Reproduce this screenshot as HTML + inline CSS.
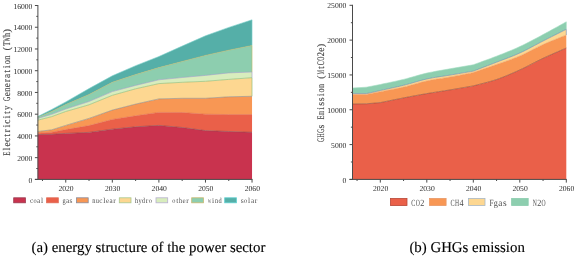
<!DOCTYPE html>
<html><head><meta charset="utf-8"><style>
html,body{margin:0;padding:0;background:#fff;width:575px;height:259px;overflow:hidden}
svg{display:block;will-change:transform;text-rendering:geometricPrecision}
.tk{font-family:"Liberation Serif",serif;fill:#262626}
.yt{font-family:"Liberation Serif",serif;fill:#4a4a4a;stroke:#4a4a4a;stroke-width:0.15px}
.lg{font-family:"Liberation Serif",serif;fill:#4c4c4c}
.cap{font-family:"Liberation Serif",serif;fill:#000;stroke:#000;stroke-width:0.12px}
</style></head><body>
<svg width="575" height="259" viewBox="0 0 575 259">
<polygon points="37.80,134.60 51.77,134.30 65.75,133.40 89.03,132.40 112.32,129.20 135.61,126.80 158.89,125.40 182.18,127.50 205.47,130.60 228.76,131.50 252.04,132.30 252.04,179.40 228.76,179.40 205.47,179.40 182.18,179.40 158.89,179.40 135.61,179.40 112.32,179.40 89.03,179.40 65.75,179.40 51.77,179.40 37.80,179.40" fill="#C9334E"/>
<polygon points="37.80,133.20 51.77,132.20 65.75,129.60 89.03,125.60 112.32,119.50 135.61,115.80 158.89,112.40 182.18,112.50 205.47,114.20 228.76,114.60 252.04,114.60 252.04,132.30 228.76,131.50 205.47,130.60 182.18,127.50 158.89,125.40 135.61,126.80 112.32,129.20 89.03,132.40 65.75,133.40 51.77,134.30 37.80,134.60" fill="#EA6049"/>
<polygon points="37.80,131.50 51.77,129.80 65.75,125.40 89.03,118.40 112.32,110.10 135.61,104.10 158.89,98.90 182.18,98.30 205.47,98.30 228.76,96.80 252.04,96.30 252.04,114.60 228.76,114.60 205.47,114.20 182.18,112.50 158.89,112.40 135.61,115.80 112.32,119.50 89.03,125.60 65.75,129.60 51.77,132.20 37.80,133.20" fill="#F89754"/>
<polygon points="37.80,120.20 51.77,116.60 65.75,111.50 89.03,104.80 112.32,95.30 135.61,88.80 158.89,83.60 182.18,82.30 205.47,81.30 228.76,79.40 252.04,77.70 252.04,96.30 228.76,96.80 205.47,98.30 182.18,98.30 158.89,98.90 135.61,104.10 112.32,110.10 89.03,118.40 65.75,125.40 51.77,129.80 37.80,131.50" fill="#FDD791"/>
<polygon points="37.80,118.40 51.77,114.30 65.75,109.00 89.03,101.50 112.32,91.60 135.61,85.40 158.89,79.80 182.18,77.50 205.47,75.40 228.76,72.90 252.04,72.00 252.04,77.70 228.76,79.40 205.47,81.30 182.18,82.30 158.89,83.60 135.61,88.80 112.32,95.30 89.03,104.80 65.75,111.50 51.77,116.60 37.80,120.20" fill="#D8EDBD"/>
<polygon points="37.80,117.40 51.77,111.40 65.75,104.60 89.03,94.50 112.32,82.30 135.61,74.60 158.89,67.60 182.18,61.50 205.47,55.40 228.76,50.20 252.04,45.50 252.04,72.00 228.76,72.90 205.47,75.40 182.18,77.50 158.89,79.80 135.61,85.40 112.32,91.60 89.03,101.50 65.75,109.00 51.77,114.30 37.80,118.40" fill="#8DCEAF"/>
<polygon points="37.80,116.60 51.77,109.40 65.75,101.90 89.03,88.60 112.32,75.80 135.61,65.70 158.89,56.50 182.18,46.10 205.47,35.80 228.76,27.40 252.04,19.80 252.04,45.50 228.76,50.20 205.47,55.40 182.18,61.50 158.89,67.60 135.61,74.60 112.32,82.30 89.03,94.50 65.75,104.60 51.77,111.40 37.80,117.40" fill="#55AFA8"/>
<polyline points="37.80,134.60 51.77,134.30 65.75,133.40 89.03,132.40 112.32,129.20 135.61,126.80 158.89,125.40 182.18,127.50 205.47,130.60 228.76,131.50 252.04,132.30" fill="none" stroke="#8a4850" stroke-width="0.6"/>
<polyline points="37.80,133.20 51.77,132.20 65.75,129.60 89.03,125.60 112.32,119.50 135.61,115.80 158.89,112.40 182.18,112.50 205.47,114.20 228.76,114.60 252.04,114.60" fill="none" stroke="#e0684e" stroke-width="0.6"/>
<polyline points="37.80,131.50 51.77,129.80 65.75,125.40 89.03,118.40 112.32,110.10 135.61,104.10 158.89,98.90 182.18,98.30 205.47,98.30 228.76,96.80 252.04,96.30" fill="none" stroke="#8a8a8a" stroke-width="0.6"/>
<polyline points="37.80,120.20 51.77,116.60 65.75,111.50 89.03,104.80 112.32,95.30 135.61,88.80 158.89,83.60 182.18,82.30 205.47,81.30 228.76,79.40 252.04,77.70" fill="none" stroke="#86b872" stroke-width="0.6"/>
<line x1="252.04" y1="77.70" x2="252.04" y2="96.30" stroke="#86b872" stroke-width="0.6"/>
<polyline points="37.80,118.40 51.77,114.30 65.75,109.00 89.03,101.50 112.32,91.60 135.61,85.40 158.89,79.80 182.18,77.50 205.47,75.40 228.76,72.90 252.04,72.00" fill="none" stroke="#a2a0c4" stroke-width="0.6"/>
<line x1="252.04" y1="72.00" x2="252.04" y2="77.70" stroke="#a2a0c4" stroke-width="0.6"/>
<polyline points="37.80,117.40 51.77,111.40 65.75,104.60 89.03,94.50 112.32,82.30 135.61,74.60 158.89,67.60 182.18,61.50 205.47,55.40 228.76,50.20 252.04,45.50" fill="none" stroke="#c2bb6a" stroke-width="0.6"/>
<line x1="252.04" y1="45.50" x2="252.04" y2="72.00" stroke="#c2bb6a" stroke-width="0.6"/>
<polyline points="37.80,116.60 51.77,109.40 65.75,101.90 89.03,88.60 112.32,75.80 135.61,65.70 158.89,56.50 182.18,46.10 205.47,35.80 228.76,27.40 252.04,19.80" fill="none" stroke="#80d2cc" stroke-width="0.6"/>
<line x1="252.04" y1="19.80" x2="252.04" y2="45.50" stroke="#80d2cc" stroke-width="0.6"/>
<polygon points="352.40,104.00 366.35,103.80 380.30,102.60 383.21,102.01 386.11,101.42 389.02,100.82 391.92,100.22 394.83,99.63 397.74,99.05 400.64,98.47 403.55,97.90 406.46,97.34 409.36,96.78 412.27,96.23 415.17,95.69 418.08,95.15 420.99,94.62 423.89,94.11 426.80,93.60 429.71,93.11 432.61,92.64 435.52,92.18 438.42,91.73 441.33,91.28 444.24,90.83 447.14,90.37 450.05,89.90 452.96,89.41 455.86,88.92 458.77,88.42 461.67,87.92 464.58,87.41 467.49,86.91 470.39,86.40 473.30,85.90 476.21,85.12 479.11,84.38 482.02,83.64 484.92,82.90 487.83,82.13 490.74,81.33 493.64,80.45 496.55,79.50 499.46,78.47 502.36,77.37 505.27,76.22 508.17,75.03 511.08,73.79 513.99,72.52 516.89,71.22 519.80,69.90 522.71,68.54 525.61,67.11 528.52,65.64 531.42,64.14 534.33,62.64 537.24,61.16 540.14,59.70 543.05,58.30 545.96,56.95 548.86,55.63 551.77,54.34 554.67,53.07 557.58,51.81 560.49,50.54 563.39,49.28 566.30,48.00 566.30,179.40 563.39,179.40 560.49,179.40 557.58,179.40 554.67,179.40 551.77,179.40 548.86,179.40 545.96,179.40 543.05,179.40 540.14,179.40 537.24,179.40 534.33,179.40 531.42,179.40 528.52,179.40 525.61,179.40 522.71,179.40 519.80,179.40 516.89,179.40 513.99,179.40 511.08,179.40 508.17,179.40 505.27,179.40 502.36,179.40 499.46,179.40 496.55,179.40 493.64,179.40 490.74,179.40 487.83,179.40 484.92,179.40 482.02,179.40 479.11,179.40 476.21,179.40 473.30,179.40 470.39,179.40 467.49,179.40 464.58,179.40 461.67,179.40 458.77,179.40 455.86,179.40 452.96,179.40 450.05,179.40 447.14,179.40 444.24,179.40 441.33,179.40 438.42,179.40 435.52,179.40 432.61,179.40 429.71,179.40 426.80,179.40 423.89,179.40 420.99,179.40 418.08,179.40 415.17,179.40 412.27,179.40 409.36,179.40 406.46,179.40 403.55,179.40 400.64,179.40 397.74,179.40 394.83,179.40 391.92,179.40 389.02,179.40 386.11,179.40 383.21,179.40 380.30,179.40 366.35,179.40 352.40,179.40" fill="#EA6049"/>
<polygon points="352.40,94.50 366.35,94.40 380.30,91.70 383.21,91.14 386.11,90.59 389.02,90.05 391.92,89.50 394.83,88.94 397.74,88.36 400.64,87.75 403.55,87.10 406.46,86.39 409.36,85.61 412.27,84.79 415.17,83.96 418.08,83.13 420.99,82.33 423.89,81.58 426.80,80.90 429.71,80.31 432.61,79.78 435.52,79.29 438.42,78.84 441.33,78.40 444.24,77.96 447.14,77.50 450.05,77.00 452.96,76.47 455.86,75.94 458.77,75.39 461.67,74.83 464.58,74.27 467.49,73.71 470.39,73.15 473.30,72.60 476.21,71.59 479.11,70.58 482.02,69.58 484.92,68.57 487.83,67.57 490.74,66.55 493.64,65.53 496.55,64.50 499.46,63.48 502.36,62.47 505.27,61.47 508.17,60.46 511.08,59.42 513.99,58.34 516.89,57.20 519.80,56.00 522.71,54.70 525.61,53.31 528.52,51.86 531.42,50.37 534.33,48.87 537.24,47.39 540.14,45.96 543.05,44.60 545.96,43.31 548.86,42.07 551.77,40.87 554.67,39.69 557.58,38.52 560.49,37.36 563.39,36.19 566.30,35.00 566.30,48.00 563.39,49.28 560.49,50.54 557.58,51.81 554.67,53.07 551.77,54.34 548.86,55.63 545.96,56.95 543.05,58.30 540.14,59.70 537.24,61.16 534.33,62.64 531.42,64.14 528.52,65.64 525.61,67.11 522.71,68.54 519.80,69.90 516.89,71.22 513.99,72.52 511.08,73.79 508.17,75.03 505.27,76.22 502.36,77.37 499.46,78.47 496.55,79.50 493.64,80.45 490.74,81.33 487.83,82.13 484.92,82.90 482.02,83.64 479.11,84.38 476.21,85.12 473.30,85.90 470.39,86.40 467.49,86.91 464.58,87.41 461.67,87.92 458.77,88.42 455.86,88.92 452.96,89.41 450.05,89.90 447.14,90.37 444.24,90.83 441.33,91.28 438.42,91.73 435.52,92.18 432.61,92.64 429.71,93.11 426.80,93.60 423.89,94.11 420.99,94.62 418.08,95.15 415.17,95.69 412.27,96.23 409.36,96.78 406.46,97.34 403.55,97.90 400.64,98.47 397.74,99.05 394.83,99.63 391.92,100.22 389.02,100.82 386.11,101.42 383.21,102.01 380.30,102.60 366.35,103.80 352.40,104.00" fill="#F89754"/>
<polygon points="352.40,93.60 366.35,93.60 380.30,90.50 383.21,89.86 386.11,89.23 389.02,88.60 391.92,87.97 394.83,87.33 397.74,86.68 400.64,86.00 403.55,85.30 406.46,84.55 409.36,83.75 412.27,82.91 415.17,82.07 418.08,81.24 420.99,80.43 423.89,79.68 426.80,79.00 429.71,78.40 432.61,77.86 435.52,77.37 438.42,76.91 441.33,76.46 444.24,76.03 447.14,75.58 450.05,75.10 452.96,74.60 455.86,74.11 458.77,73.61 461.67,73.11 464.58,72.60 467.49,72.10 470.39,71.60 473.30,71.10 476.21,69.99 479.11,68.88 482.02,67.78 484.92,66.67 487.83,65.56 490.74,64.45 493.64,63.33 496.55,62.20 499.46,61.08 502.36,59.99 505.27,58.90 508.17,57.79 511.08,56.67 513.99,55.50 516.89,54.29 519.80,53.00 522.71,51.63 525.61,50.19 528.52,48.69 531.42,47.16 534.33,45.60 537.24,44.04 540.14,42.50 543.05,41.00 545.96,39.52 548.86,38.05 551.77,36.59 554.67,35.13 557.58,33.67 560.49,32.22 563.39,30.76 566.30,29.30 566.30,35.00 563.39,36.19 560.49,37.36 557.58,38.52 554.67,39.69 551.77,40.87 548.86,42.07 545.96,43.31 543.05,44.60 540.14,45.96 537.24,47.39 534.33,48.87 531.42,50.37 528.52,51.86 525.61,53.31 522.71,54.70 519.80,56.00 516.89,57.20 513.99,58.34 511.08,59.42 508.17,60.46 505.27,61.47 502.36,62.47 499.46,63.48 496.55,64.50 493.64,65.53 490.74,66.55 487.83,67.57 484.92,68.57 482.02,69.58 479.11,70.58 476.21,71.59 473.30,72.60 470.39,73.15 467.49,73.71 464.58,74.27 461.67,74.83 458.77,75.39 455.86,75.94 452.96,76.47 450.05,77.00 447.14,77.50 444.24,77.96 441.33,78.40 438.42,78.84 435.52,79.29 432.61,79.78 429.71,80.31 426.80,80.90 423.89,81.58 420.99,82.33 418.08,83.13 415.17,83.96 412.27,84.79 409.36,85.61 406.46,86.39 403.55,87.10 400.64,87.75 397.74,88.36 394.83,88.94 391.92,89.50 389.02,90.05 386.11,90.59 383.21,91.14 380.30,91.70 366.35,94.40 352.40,94.50" fill="#FDD791"/>
<polygon points="352.40,88.10 366.35,87.20 380.30,84.50 383.21,83.87 386.11,83.25 389.02,82.64 391.92,82.03 394.83,81.40 397.74,80.76 400.64,80.09 403.55,79.40 406.46,78.66 409.36,77.86 412.27,77.04 415.17,76.20 418.08,75.37 420.99,74.56 423.89,73.80 426.80,73.10 429.71,72.46 432.61,71.88 435.52,71.33 438.42,70.81 441.33,70.30 444.24,69.81 447.14,69.31 450.05,68.80 452.96,68.29 455.86,67.78 458.77,67.28 461.67,66.78 464.58,66.29 467.49,65.79 470.39,65.30 473.30,64.80 476.21,63.73 479.11,62.67 482.02,61.62 484.92,60.56 487.83,59.50 490.74,58.42 493.64,57.32 496.55,56.20 499.46,55.06 502.36,53.93 505.27,52.78 508.17,51.61 511.08,50.42 513.99,49.19 516.89,47.92 519.80,46.60 522.71,45.22 525.61,43.79 528.52,42.31 531.42,40.80 534.33,39.26 537.24,37.71 540.14,36.15 543.05,34.60 545.96,33.04 548.86,31.46 551.77,29.86 554.67,28.25 557.58,26.64 560.49,25.02 563.39,23.41 566.30,21.80 566.30,29.30 563.39,30.76 560.49,32.22 557.58,33.67 554.67,35.13 551.77,36.59 548.86,38.05 545.96,39.52 543.05,41.00 540.14,42.50 537.24,44.04 534.33,45.60 531.42,47.16 528.52,48.69 525.61,50.19 522.71,51.63 519.80,53.00 516.89,54.29 513.99,55.50 511.08,56.67 508.17,57.79 505.27,58.90 502.36,59.99 499.46,61.08 496.55,62.20 493.64,63.33 490.74,64.45 487.83,65.56 484.92,66.67 482.02,67.78 479.11,68.88 476.21,69.99 473.30,71.10 470.39,71.60 467.49,72.10 464.58,72.60 461.67,73.11 458.77,73.61 455.86,74.11 452.96,74.60 450.05,75.10 447.14,75.58 444.24,76.03 441.33,76.46 438.42,76.91 435.52,77.37 432.61,77.86 429.71,78.40 426.80,79.00 423.89,79.68 420.99,80.43 418.08,81.24 415.17,82.07 412.27,82.91 409.36,83.75 406.46,84.55 403.55,85.30 400.64,86.00 397.74,86.68 394.83,87.33 391.92,87.97 389.02,88.60 386.11,89.23 383.21,89.86 380.30,90.50 366.35,93.60 352.40,93.60" fill="#8DCEAF"/>
<polyline points="352.40,104.00 366.35,103.80 380.30,102.60 383.21,102.01 386.11,101.42 389.02,100.82 391.92,100.22 394.83,99.63 397.74,99.05 400.64,98.47 403.55,97.90 406.46,97.34 409.36,96.78 412.27,96.23 415.17,95.69 418.08,95.15 420.99,94.62 423.89,94.11 426.80,93.60 429.71,93.11 432.61,92.64 435.52,92.18 438.42,91.73 441.33,91.28 444.24,90.83 447.14,90.37 450.05,89.90 452.96,89.41 455.86,88.92 458.77,88.42 461.67,87.92 464.58,87.41 467.49,86.91 470.39,86.40 473.30,85.90 476.21,85.12 479.11,84.38 482.02,83.64 484.92,82.90 487.83,82.13 490.74,81.33 493.64,80.45 496.55,79.50 499.46,78.47 502.36,77.37 505.27,76.22 508.17,75.03 511.08,73.79 513.99,72.52 516.89,71.22 519.80,69.90 522.71,68.54 525.61,67.11 528.52,65.64 531.42,64.14 534.33,62.64 537.24,61.16 540.14,59.70 543.05,58.30 545.96,56.95 548.86,55.63 551.77,54.34 554.67,53.07 557.58,51.81 560.49,50.54 563.39,49.28 566.30,48.00" fill="none" stroke="#8a4a3a" stroke-width="0.6"/>
<polyline points="352.40,94.50 366.35,94.40 380.30,91.70 383.21,91.14 386.11,90.59 389.02,90.05 391.92,89.50 394.83,88.94 397.74,88.36 400.64,87.75 403.55,87.10 406.46,86.39 409.36,85.61 412.27,84.79 415.17,83.96 418.08,83.13 420.99,82.33 423.89,81.58 426.80,80.90 429.71,80.31 432.61,79.78 435.52,79.29 438.42,78.84 441.33,78.40 444.24,77.96 447.14,77.50 450.05,77.00 452.96,76.47 455.86,75.94 458.77,75.39 461.67,74.83 464.58,74.27 467.49,73.71 470.39,73.15 473.30,72.60 476.21,71.59 479.11,70.58 482.02,69.58 484.92,68.57 487.83,67.57 490.74,66.55 493.64,65.53 496.55,64.50 499.46,63.48 502.36,62.47 505.27,61.47 508.17,60.46 511.08,59.42 513.99,58.34 516.89,57.20 519.80,56.00 522.71,54.70 525.61,53.31 528.52,51.86 531.42,50.37 534.33,48.87 537.24,47.39 540.14,45.96 543.05,44.60 545.96,43.31 548.86,42.07 551.77,40.87 554.67,39.69 557.58,38.52 560.49,37.36 563.39,36.19 566.30,35.00" fill="none" stroke="#ec9a62" stroke-width="0.6"/>
<polyline points="352.40,93.60 366.35,93.60 380.30,90.50 383.21,89.86 386.11,89.23 389.02,88.60 391.92,87.97 394.83,87.33 397.74,86.68 400.64,86.00 403.55,85.30 406.46,84.55 409.36,83.75 412.27,82.91 415.17,82.07 418.08,81.24 420.99,80.43 423.89,79.68 426.80,79.00 429.71,78.40 432.61,77.86 435.52,77.37 438.42,76.91 441.33,76.46 444.24,76.03 447.14,75.58 450.05,75.10 452.96,74.60 455.86,74.11 458.77,73.61 461.67,73.11 464.58,72.60 467.49,72.10 470.39,71.60 473.30,71.10 476.21,69.99 479.11,68.88 482.02,67.78 484.92,66.67 487.83,65.56 490.74,64.45 493.64,63.33 496.55,62.20 499.46,61.08 502.36,59.99 505.27,58.90 508.17,57.79 511.08,56.67 513.99,55.50 516.89,54.29 519.80,53.00 522.71,51.63 525.61,50.19 528.52,48.69 531.42,47.16 534.33,45.60 537.24,44.04 540.14,42.50 543.05,41.00 545.96,39.52 548.86,38.05 551.77,36.59 554.67,35.13 557.58,33.67 560.49,32.22 563.39,30.76 566.30,29.30" fill="none" stroke="#6f88ac" stroke-width="0.6"/>
<line x1="566.30" y1="29.30" x2="566.30" y2="35.00" stroke="#6f88ac" stroke-width="0.6"/>
<polyline points="352.40,88.10 366.35,87.20 380.30,84.50 383.21,83.87 386.11,83.25 389.02,82.64 391.92,82.03 394.83,81.40 397.74,80.76 400.64,80.09 403.55,79.40 406.46,78.66 409.36,77.86 412.27,77.04 415.17,76.20 418.08,75.37 420.99,74.56 423.89,73.80 426.80,73.10 429.71,72.46 432.61,71.88 435.52,71.33 438.42,70.81 441.33,70.30 444.24,69.81 447.14,69.31 450.05,68.80 452.96,68.29 455.86,67.78 458.77,67.28 461.67,66.78 464.58,66.29 467.49,65.79 470.39,65.30 473.30,64.80 476.21,63.73 479.11,62.67 482.02,61.62 484.92,60.56 487.83,59.50 490.74,58.42 493.64,57.32 496.55,56.20 499.46,55.06 502.36,53.93 505.27,52.78 508.17,51.61 511.08,50.42 513.99,49.19 516.89,47.92 519.80,46.60 522.71,45.22 525.61,43.79 528.52,42.31 531.42,40.80 534.33,39.26 537.24,37.71 540.14,36.15 543.05,34.60 545.96,33.04 548.86,31.46 551.77,29.86 554.67,28.25 557.58,26.64 560.49,25.02 563.39,23.41 566.30,21.80" fill="none" stroke="#a0dcc0" stroke-width="0.6"/>
<line x1="566.30" y1="21.80" x2="566.30" y2="29.30" stroke="#a0dcc0" stroke-width="0.6"/>
<line x1="37.9" y1="5.0" x2="37.9" y2="179.9" stroke="#4a4a4a" stroke-width="1"/>
<line x1="34.9" y1="179.40" x2="37.9" y2="179.40" stroke="#4a4a4a" stroke-width="1"/>
<text x="32.4" y="182.50" text-anchor="end" class="tk" font-size="7.6">0</text>
<line x1="36.3" y1="168.53" x2="37.9" y2="168.53" stroke="#4a4a4a" stroke-width="1"/>
<line x1="34.9" y1="157.66" x2="37.9" y2="157.66" stroke="#4a4a4a" stroke-width="1"/>
<text x="32.4" y="160.76" text-anchor="end" class="tk" font-size="7.6">2000</text>
<line x1="36.3" y1="146.79" x2="37.9" y2="146.79" stroke="#4a4a4a" stroke-width="1"/>
<line x1="34.9" y1="135.93" x2="37.9" y2="135.93" stroke="#4a4a4a" stroke-width="1"/>
<text x="32.4" y="139.03" text-anchor="end" class="tk" font-size="7.6">4000</text>
<line x1="36.3" y1="125.06" x2="37.9" y2="125.06" stroke="#4a4a4a" stroke-width="1"/>
<line x1="34.9" y1="114.19" x2="37.9" y2="114.19" stroke="#4a4a4a" stroke-width="1"/>
<text x="32.4" y="117.29" text-anchor="end" class="tk" font-size="7.6">6000</text>
<line x1="36.3" y1="103.32" x2="37.9" y2="103.32" stroke="#4a4a4a" stroke-width="1"/>
<line x1="34.9" y1="92.45" x2="37.9" y2="92.45" stroke="#4a4a4a" stroke-width="1"/>
<text x="32.4" y="95.55" text-anchor="end" class="tk" font-size="7.6">8000</text>
<line x1="36.3" y1="81.58" x2="37.9" y2="81.58" stroke="#4a4a4a" stroke-width="1"/>
<line x1="34.9" y1="70.71" x2="37.9" y2="70.71" stroke="#4a4a4a" stroke-width="1"/>
<text x="32.4" y="73.81" text-anchor="end" class="tk" font-size="7.6">10000</text>
<line x1="36.3" y1="59.84" x2="37.9" y2="59.84" stroke="#4a4a4a" stroke-width="1"/>
<line x1="34.9" y1="48.97" x2="37.9" y2="48.97" stroke="#4a4a4a" stroke-width="1"/>
<text x="32.4" y="52.07" text-anchor="end" class="tk" font-size="7.6">12000</text>
<line x1="36.3" y1="38.11" x2="37.9" y2="38.11" stroke="#4a4a4a" stroke-width="1"/>
<line x1="34.9" y1="27.24" x2="37.9" y2="27.24" stroke="#4a4a4a" stroke-width="1"/>
<text x="32.4" y="30.34" text-anchor="end" class="tk" font-size="7.6">14000</text>
<line x1="36.3" y1="16.37" x2="37.9" y2="16.37" stroke="#4a4a4a" stroke-width="1"/>
<line x1="34.9" y1="5.50" x2="37.9" y2="5.50" stroke="#4a4a4a" stroke-width="1"/>
<text x="32.4" y="8.60" text-anchor="end" class="tk" font-size="7.6">16000</text>
<line x1="352.5" y1="4.8" x2="352.5" y2="179.9" stroke="#4a4a4a" stroke-width="1"/>
<line x1="349.5" y1="179.40" x2="352.5" y2="179.40" stroke="#4a4a4a" stroke-width="1"/>
<text x="346.3" y="182.50" text-anchor="end" class="tk" font-size="7.6">0</text>
<line x1="350.9" y1="161.99" x2="352.5" y2="161.99" stroke="#4a4a4a" stroke-width="1"/>
<line x1="349.5" y1="144.58" x2="352.5" y2="144.58" stroke="#4a4a4a" stroke-width="1"/>
<text x="346.3" y="147.68" text-anchor="end" class="tk" font-size="7.6">5000</text>
<line x1="350.9" y1="127.17" x2="352.5" y2="127.17" stroke="#4a4a4a" stroke-width="1"/>
<line x1="349.5" y1="109.76" x2="352.5" y2="109.76" stroke="#4a4a4a" stroke-width="1"/>
<text x="346.3" y="112.86" text-anchor="end" class="tk" font-size="7.6">10000</text>
<line x1="350.9" y1="92.35" x2="352.5" y2="92.35" stroke="#4a4a4a" stroke-width="1"/>
<line x1="349.5" y1="74.94" x2="352.5" y2="74.94" stroke="#4a4a4a" stroke-width="1"/>
<text x="346.3" y="78.04" text-anchor="end" class="tk" font-size="7.6">15000</text>
<line x1="350.9" y1="57.53" x2="352.5" y2="57.53" stroke="#4a4a4a" stroke-width="1"/>
<line x1="349.5" y1="40.12" x2="352.5" y2="40.12" stroke="#4a4a4a" stroke-width="1"/>
<text x="346.3" y="43.22" text-anchor="end" class="tk" font-size="7.6">20000</text>
<line x1="350.9" y1="22.71" x2="352.5" y2="22.71" stroke="#4a4a4a" stroke-width="1"/>
<line x1="349.5" y1="5.30" x2="352.5" y2="5.30" stroke="#4a4a4a" stroke-width="1"/>
<text x="346.3" y="8.40" text-anchor="end" class="tk" font-size="7.6">25000</text>
<line x1="34.9" y1="179.4" x2="252.54499999999996" y2="179.4" stroke="#4a4a4a" stroke-width="1"/>
<line x1="42.46" y1="179.4" x2="42.46" y2="181.0" stroke="#4a4a4a" stroke-width="1"/>
<line x1="65.75" y1="179.4" x2="65.75" y2="182.6" stroke="#4a4a4a" stroke-width="1"/>
<text x="66.05" y="191.4" text-anchor="middle" class="tk" font-size="7.6">2020</text>
<line x1="89.03" y1="179.4" x2="89.03" y2="181.0" stroke="#4a4a4a" stroke-width="1"/>
<line x1="112.32" y1="179.4" x2="112.32" y2="182.6" stroke="#4a4a4a" stroke-width="1"/>
<text x="112.62" y="191.4" text-anchor="middle" class="tk" font-size="7.6">2030</text>
<line x1="135.61" y1="179.4" x2="135.61" y2="181.0" stroke="#4a4a4a" stroke-width="1"/>
<line x1="158.89" y1="179.4" x2="158.89" y2="182.6" stroke="#4a4a4a" stroke-width="1"/>
<text x="159.19" y="191.4" text-anchor="middle" class="tk" font-size="7.6">2040</text>
<line x1="182.18" y1="179.4" x2="182.18" y2="181.0" stroke="#4a4a4a" stroke-width="1"/>
<line x1="205.47" y1="179.4" x2="205.47" y2="182.6" stroke="#4a4a4a" stroke-width="1"/>
<text x="205.77" y="191.4" text-anchor="middle" class="tk" font-size="7.6">2050</text>
<line x1="228.76" y1="179.4" x2="228.76" y2="181.0" stroke="#4a4a4a" stroke-width="1"/>
<line x1="252.04" y1="179.4" x2="252.04" y2="182.6" stroke="#4a4a4a" stroke-width="1"/>
<text x="252.34" y="191.4" text-anchor="middle" class="tk" font-size="7.6">2060</text>
<line x1="349.5" y1="179.4" x2="566.8" y2="179.4" stroke="#4a4a4a" stroke-width="1"/>
<line x1="357.05" y1="179.4" x2="357.05" y2="181.0" stroke="#4a4a4a" stroke-width="1"/>
<line x1="380.30" y1="179.4" x2="380.30" y2="182.6" stroke="#4a4a4a" stroke-width="1"/>
<text x="380.60" y="191.4" text-anchor="middle" class="tk" font-size="7.6">2020</text>
<line x1="403.55" y1="179.4" x2="403.55" y2="181.0" stroke="#4a4a4a" stroke-width="1"/>
<line x1="426.80" y1="179.4" x2="426.80" y2="182.6" stroke="#4a4a4a" stroke-width="1"/>
<text x="427.10" y="191.4" text-anchor="middle" class="tk" font-size="7.6">2030</text>
<line x1="450.05" y1="179.4" x2="450.05" y2="181.0" stroke="#4a4a4a" stroke-width="1"/>
<line x1="473.30" y1="179.4" x2="473.30" y2="182.6" stroke="#4a4a4a" stroke-width="1"/>
<text x="473.60" y="191.4" text-anchor="middle" class="tk" font-size="7.6">2040</text>
<line x1="496.55" y1="179.4" x2="496.55" y2="181.0" stroke="#4a4a4a" stroke-width="1"/>
<line x1="519.80" y1="179.4" x2="519.80" y2="182.6" stroke="#4a4a4a" stroke-width="1"/>
<text x="520.10" y="191.4" text-anchor="middle" class="tk" font-size="7.6">2050</text>
<line x1="543.05" y1="179.4" x2="543.05" y2="181.0" stroke="#4a4a4a" stroke-width="1"/>
<line x1="566.30" y1="179.4" x2="566.30" y2="182.6" stroke="#4a4a4a" stroke-width="1"/>
<text x="566.60" y="191.4" text-anchor="middle" class="tk" font-size="7.6">2060</text>
<g transform="translate(9.9,155.9) rotate(-90)"><g class="yt" font-size="10.2" ><text x="0.18" y="0" textLength="4.20" lengthAdjust="spacingAndGlyphs">E</text><text x="9.32" y="0" textLength="4.20" lengthAdjust="spacingAndGlyphs">e</text><text x="13.89" y="0" textLength="4.20" lengthAdjust="spacingAndGlyphs">c</text><text x="32.17" y="0" textLength="4.20" lengthAdjust="spacingAndGlyphs">c</text><text x="45.88" y="0" textLength="4.20" lengthAdjust="spacingAndGlyphs">y</text><text x="55.02" y="0" textLength="4.20" lengthAdjust="spacingAndGlyphs">G</text><text x="59.59" y="0" textLength="4.20" lengthAdjust="spacingAndGlyphs">e</text><text x="64.16" y="0" textLength="4.20" lengthAdjust="spacingAndGlyphs">n</text><text x="68.73" y="0" textLength="4.20" lengthAdjust="spacingAndGlyphs">e</text><text x="77.87" y="0" textLength="4.20" lengthAdjust="spacingAndGlyphs">a</text><text x="91.58" y="0" textLength="4.20" lengthAdjust="spacingAndGlyphs">o</text><text x="96.15" y="0" textLength="4.20" lengthAdjust="spacingAndGlyphs">n</text><text x="109.86" y="0" textLength="4.20" lengthAdjust="spacingAndGlyphs">T</text><text x="114.43" y="0" textLength="4.20" lengthAdjust="spacingAndGlyphs">W</text><text x="119.00" y="0" textLength="4.20" lengthAdjust="spacingAndGlyphs">h</text><text x="5.44 19.15 23.44 28.29 37.43 42.00 73.71 83.13 87.70 105.47 123.52" y="0">ltriitrti()</text></g></g>
<g transform="translate(324.4,142.3) rotate(-90)"><g class="yt" font-size="10.0" ><text x="0.18" y="0" textLength="4.16" lengthAdjust="spacingAndGlyphs">G</text><text x="4.70" y="0" textLength="4.16" lengthAdjust="spacingAndGlyphs">H</text><text x="9.22" y="0" textLength="4.16" lengthAdjust="spacingAndGlyphs">G</text><text x="22.78" y="0" textLength="4.16" lengthAdjust="spacingAndGlyphs">E</text><text x="27.30" y="0" textLength="4.16" lengthAdjust="spacingAndGlyphs">m</text><text x="49.90" y="0" textLength="4.16" lengthAdjust="spacingAndGlyphs">o</text><text x="54.42" y="0" textLength="4.16" lengthAdjust="spacingAndGlyphs">n</text><text x="67.98" y="0" textLength="4.16" lengthAdjust="spacingAndGlyphs">M</text><text x="77.02" y="0" textLength="4.16" lengthAdjust="spacingAndGlyphs">C</text><text x="81.54" y="0" textLength="4.16" lengthAdjust="spacingAndGlyphs">O</text><text x="86.06" y="0" textLength="4.16" lengthAdjust="spacingAndGlyphs">2</text><text x="90.58" y="0" textLength="4.16" lengthAdjust="spacingAndGlyphs">e</text><text x="13.87 32.51 36.47 40.99 46.07 63.65 73.19 95.06" y="0">sissi(t)</text></g></g>
<rect x="13.7" y="197.8" width="11.7" height="5" fill="#C9334E" stroke="#9a3a50" stroke-width="0.8"/>
<g class="lg" font-size="7.5" ><text x="30.04" y="202.7" textLength="3.17" lengthAdjust="spacingAndGlyphs">c</text><text x="33.49" y="202.7" textLength="3.17" lengthAdjust="spacingAndGlyphs">o</text><text x="36.94" y="202.7" textLength="3.17" lengthAdjust="spacingAndGlyphs">a</text><text x="40.93" y="202.7">l</text></g>
<rect x="46.6" y="197.8" width="11.7" height="5" fill="#EA6049" stroke="#e06a55" stroke-width="0.8"/>
<g class="lg" font-size="7.5" ><text x="62.54" y="202.7" textLength="3.17" lengthAdjust="spacingAndGlyphs">g</text><text x="65.99" y="202.7" textLength="3.17" lengthAdjust="spacingAndGlyphs">a</text><text x="69.57" y="202.7">s</text></g>
<rect x="76.5" y="197.8" width="11.7" height="5" fill="#F89754" stroke="#8a8a9a" stroke-width="0.8"/>
<g class="lg" font-size="7.5" ><text x="92.24" y="202.7" textLength="3.17" lengthAdjust="spacingAndGlyphs">n</text><text x="95.69" y="202.7" textLength="3.17" lengthAdjust="spacingAndGlyphs">u</text><text x="99.14" y="202.7" textLength="3.17" lengthAdjust="spacingAndGlyphs">c</text><text x="106.04" y="202.7" textLength="3.17" lengthAdjust="spacingAndGlyphs">e</text><text x="109.49" y="202.7" textLength="3.17" lengthAdjust="spacingAndGlyphs">a</text><text x="103.13 113.28" y="202.7">lr</text></g>
<rect x="119.3" y="197.8" width="11.7" height="5" fill="#FDD791" stroke="#a8c890" stroke-width="0.8"/>
<g class="lg" font-size="7.5" ><text x="134.94" y="202.7" textLength="3.17" lengthAdjust="spacingAndGlyphs">h</text><text x="138.39" y="202.7" textLength="3.17" lengthAdjust="spacingAndGlyphs">y</text><text x="141.84" y="202.7" textLength="3.17" lengthAdjust="spacingAndGlyphs">d</text><text x="148.74" y="202.7" textLength="3.17" lengthAdjust="spacingAndGlyphs">o</text><text x="145.63" y="202.7">r</text></g>
<rect x="156.0" y="197.8" width="11.7" height="5" fill="#D8EDBD" stroke="#b8b0d0" stroke-width="0.8"/>
<g class="lg" font-size="7.5" ><text x="172.14" y="202.7" textLength="3.17" lengthAdjust="spacingAndGlyphs">o</text><text x="179.04" y="202.7" textLength="3.17" lengthAdjust="spacingAndGlyphs">h</text><text x="182.49" y="202.7" textLength="3.17" lengthAdjust="spacingAndGlyphs">e</text><text x="176.13 186.28" y="202.7">tr</text></g>
<rect x="191.7" y="197.8" width="11.7" height="5" fill="#8DCEAF" stroke="#c8b870" stroke-width="0.8"/>
<g class="lg" font-size="7.5" ><text x="208.04" y="202.7" textLength="3.17" lengthAdjust="spacingAndGlyphs">w</text><text x="214.94" y="202.7" textLength="3.17" lengthAdjust="spacingAndGlyphs">n</text><text x="218.39" y="202.7" textLength="3.17" lengthAdjust="spacingAndGlyphs">d</text><text x="212.03" y="202.7">i</text></g>
<rect x="224.7" y="197.8" width="11.7" height="5" fill="#55AFA8" stroke="#60d0d0" stroke-width="0.8"/>
<g class="lg" font-size="7.5" ><text x="244.09" y="202.7" textLength="3.17" lengthAdjust="spacingAndGlyphs">o</text><text x="250.99" y="202.7" textLength="3.17" lengthAdjust="spacingAndGlyphs">a</text><text x="240.77 248.08 254.78" y="202.7">slr</text></g>
<rect x="390.4" y="198.4" width="16.6" height="7.199999999999999" fill="#EA6049" stroke="#b84a3a" stroke-width="0.8"/>
<g class="lg" font-size="9.5" ><text x="411.28" y="205.5" textLength="4.09" lengthAdjust="spacingAndGlyphs">C</text><text x="415.73" y="205.5" textLength="4.09" lengthAdjust="spacingAndGlyphs">O</text><text x="420.18" y="205.5" textLength="4.09" lengthAdjust="spacingAndGlyphs">2</text></g>
<rect x="429.5" y="198.4" width="16.6" height="7.199999999999999" fill="#F89754" stroke="#e89a6a" stroke-width="0.8"/>
<g class="lg" font-size="9.5" ><text x="450.58" y="205.5" textLength="4.09" lengthAdjust="spacingAndGlyphs">C</text><text x="455.03" y="205.5" textLength="4.09" lengthAdjust="spacingAndGlyphs">H</text><text x="459.48" y="205.5" textLength="4.09" lengthAdjust="spacingAndGlyphs">4</text></g>
<rect x="468.4" y="198.4" width="16.6" height="7.199999999999999" fill="#FDD791" stroke="#a8b8c8" stroke-width="0.8"/>
<g class="lg" font-size="9.5" ><text x="489.38" y="205.5" textLength="4.09" lengthAdjust="spacingAndGlyphs">F</text><text x="493.83" y="205.5" textLength="4.09" lengthAdjust="spacingAndGlyphs">g</text><text x="498.28" y="205.5" textLength="4.09" lengthAdjust="spacingAndGlyphs">a</text><text x="502.93" y="205.5">s</text></g>
<rect x="511.6" y="198.4" width="16.6" height="7.199999999999999" fill="#8DCEAF" stroke="#8DCEAF" stroke-width="0.8"/>
<g class="lg" font-size="9.5" ><text x="532.68" y="205.5" textLength="4.09" lengthAdjust="spacingAndGlyphs">N</text><text x="537.13" y="205.5" textLength="4.09" lengthAdjust="spacingAndGlyphs">2</text><text x="541.58" y="205.5" textLength="4.09" lengthAdjust="spacingAndGlyphs">O</text></g>
<text x="31.5" y="252" class="cap" font-size="14.85">(a) energy structure of the power sector</text>
<text x="409.4" y="252.2" class="cap" font-size="14.85">(b) GHGs emission</text>
</svg>
</body></html>
